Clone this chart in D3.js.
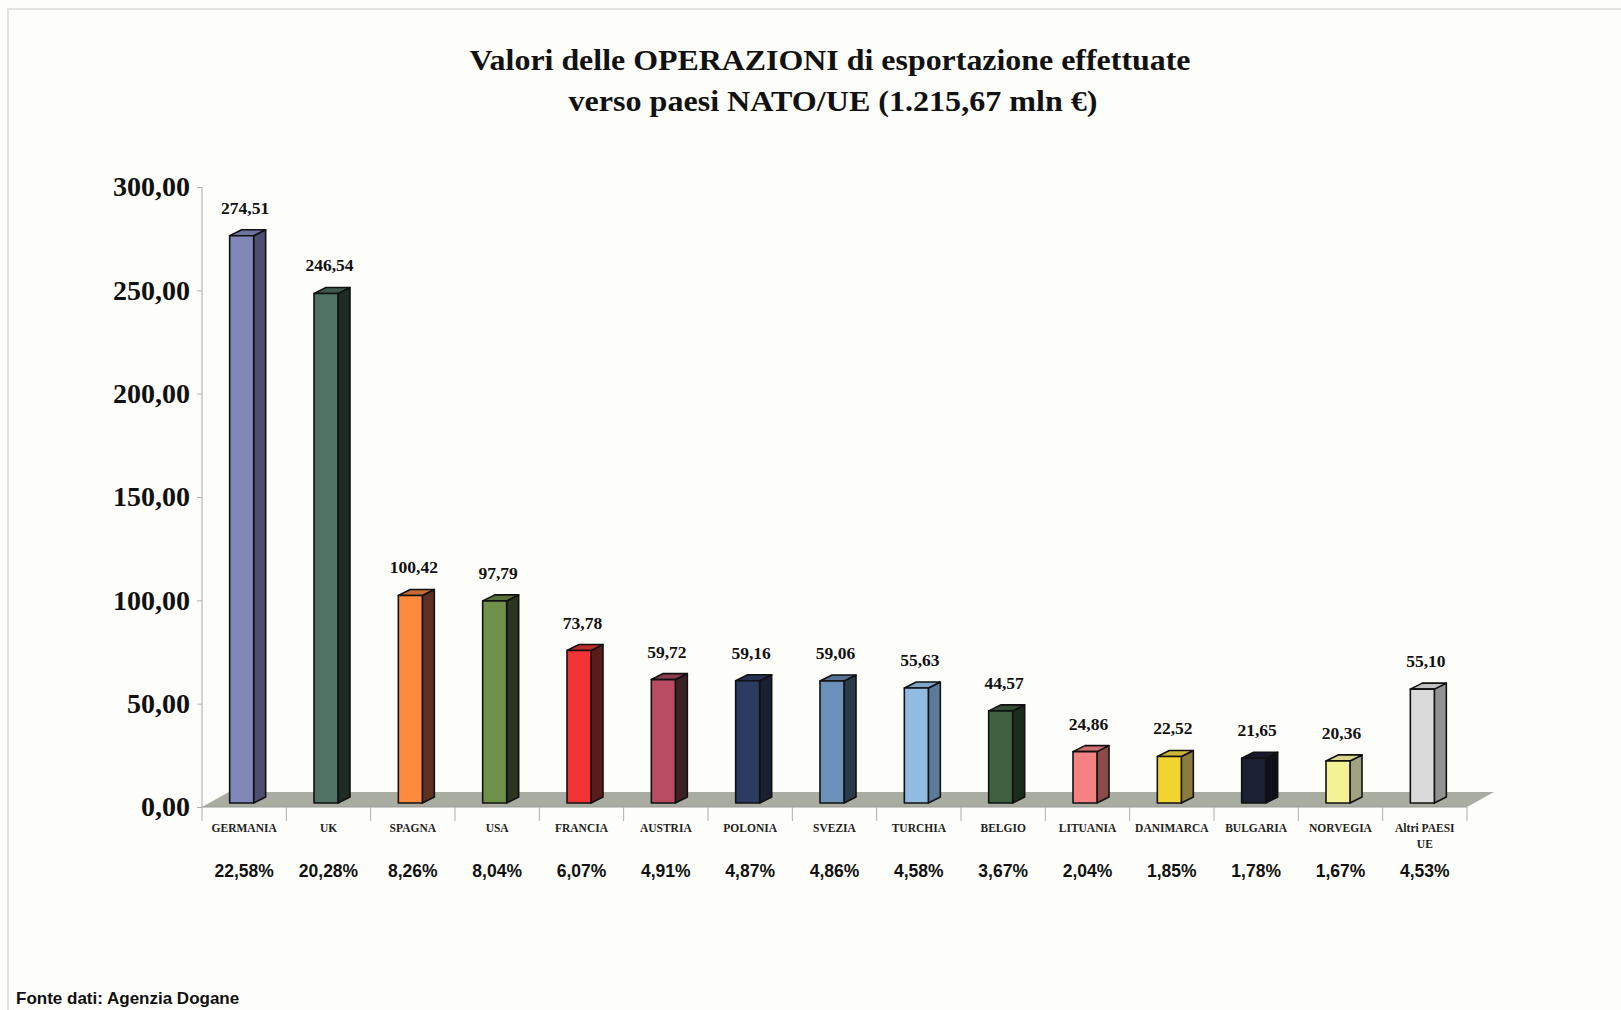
<!DOCTYPE html>
<html>
<head>
<meta charset="utf-8">
<script src="https://cdn.jsdelivr.net/npm/d3@7"></script>
<style>
    html, body { margin: 0; padding: 0; background: #fdfdf9; }
    svg { display: block; }
</style>
</head>
<body>
<svg id="chart" width="1621" height="1010"></svg>
<script>
// Dati
const countries = ["GERMANIA", "UK", "SPAGNA", "USA", "FRANCIA", "AUSTRIA", "POLONIA", "SVEZIA",
    "TURCHIA", "BELGIO", "LITUANIA", "DANIMARCA", "BULGARIA", "NORVEGIA", "Altri PAESI\nUE"];
const values = [274.51, 246.54, 100.42, 97.79, 73.78, 59.72, 59.16, 59.06, 55.63, 44.57, 24.86, 22.52, 21.65, 20.36, 55.10];
const shares = ["22,58%", "20,28%", "8,26%", "8,04%", "6,07%", "4,91%", "4,87%", "4,86%", "4,58%", "3,67%",
    "2,04%", "1,85%", "1,78%", "1,67%", "4,53%"];
const yTicks = [0, 50, 100, 150, 200, 250, 300];
const frontColors = ["#7f87b9", "#4f7262", "#ff8a3c", "#6f9049", "#f23434", "#b94b62", "#2b3b62", "#6b90b9",
    "#92bbe2", "#3f6142", "#f48282", "#f2d431", "#1c2033", "#f3f396", "#dadada"];
const sideColors = ["#4b4f72", "#1f2b25", "#5b3222", "#2b3522", "#5c1b1b", "#3b2126", "#1a2031", "#2b3b4c",
    "#5b7b99", "#1d2b1d", "#8c4b4b", "#8b7b41", "#0e1019", "#a2a282", "#929292"];

const fmt = v => v.toFixed(2).replace(".", ",");

const svg = d3.select("#chart");

// cornice leggera
svg.append("path")
    .attr("d", "M8,1010 V9 H1621")
    .attr("fill", "none")
    .attr("stroke", "#e3e3de")
    .attr("stroke-width", 2);

const x = d3.scaleBand().domain(d3.range(countries.length)).range([202, 1467]).padding(0);
const y = d3.scaleLinear().domain([0, 300]).range([807, 187]);

const floorDepth = { dx: 27, dy: -15 };
const plane = { dx: 0, dy: -4 };      // piano frontale delle barre
const barDepth = { dx: 12, dy: -6 };
const barW = 24;

// pavimento
const fx0 = x.range()[0], fx1 = x.range()[1], fy = y(0);
svg.append("path")
    .attr("d", `M${fx0},${fy} L${fx1},${fy} L${fx1 + floorDepth.dx},${fy + floorDepth.dy} L${fx0 + floorDepth.dx},${fy + floorDepth.dy} Z`)
    .attr("fill", "#a9aca1");

// asse Y
svg.append("line")
    .attr("x1", fx0).attr("x2", fx0)
    .attr("y1", y(300)).attr("y2", y(0))
    .attr("stroke", "#b5b5b0").attr("stroke-width", 1.2);

const yAxis = svg.append("g").attr("transform", `translate(${fx0},0)`)
    .call(d3.axisLeft(y).tickValues(yTicks).tickSize(5).tickPadding(7).tickFormat(fmt));
yAxis.select(".domain").remove();
yAxis.selectAll(".tick line").attr("stroke", "#b5b5b0");
yAxis.selectAll("text")
    .attr("fill", "#111")
    .style("font-family", "'Liberation Serif', 'Times New Roman', serif")
    .style("font-weight", "bold")
    .style("font-size", "28px");

// asse X (tacche tra le categorie)
svg.append("line")
    .attr("x1", fx0).attr("x2", fx1).attr("y1", fy).attr("y2", fy)
    .attr("stroke", "#9a9c95").attr("stroke-width", 1);
svg.append("g").selectAll("line")
    .data(d3.range(countries.length + 1))
    .join("line")
    .attr("x1", i => fx0 + i * x.bandwidth())
    .attr("x2", i => fx0 + i * x.bandwidth())
    .attr("y1", fy).attr("y2", fy + 14)
    .attr("stroke", "#b0b0aa").attr("stroke-width", 1);

// barre 3D
const bars = svg.append("g");
values.forEach((v, i) => {
    const cx = x(i) + x.bandwidth() / 2;
    const x0 = cx - 14.5 + plane.dx;
    const x1 = x0 + barW;
    const yb = y(0) + plane.dy;
    const yt = y(v) + plane.dy;
    const front = frontColors[i], side = sideColors[i];
    const top = d3.interpolateRgb(front, side)(0.35);
    const g = bars.append("g")
        .attr("stroke", "#111").attr("stroke-width", 1.6).attr("stroke-linejoin", "round");
    g.append("path")
        .attr("d", `M${x1},${yb} L${x1 + barDepth.dx},${yb + barDepth.dy} L${x1 + barDepth.dx},${yt + barDepth.dy} L${x1},${yt} Z`)
        .attr("fill", side);
    g.append("path")
        .attr("d", `M${x0},${yt} L${x0 + barDepth.dx},${yt + barDepth.dy} L${x1 + barDepth.dx},${yt + barDepth.dy} L${x1},${yt} Z`)
        .attr("fill", top);
    g.append("rect")
        .attr("x", x0).attr("y", yt).attr("width", barW).attr("height", yb - yt)
        .attr("fill", front);

    svg.append("text")
        .attr("x", cx + 1)
        .attr("y", yt - 22)
        .attr("text-anchor", "middle")
        .style("font-family", "'Liberation Serif', 'Times New Roman', serif")
        .style("font-weight", "bold")
        .style("font-size", "17.5px")
        .attr("fill", "#111")
        .text(fmt(v));
});

// etichette categorie
const catLabels = svg.append("g")
    .style("font-family", "'Liberation Serif', 'Times New Roman', serif")
    .style("font-weight", "bold")
    .style("font-size", "11.5px")
    .attr("fill", "#222")
    .attr("text-anchor", "middle");
countries.forEach((c, i) => {
    const t = catLabels.append("text").attr("x", x(i) + x.bandwidth() / 2).attr("y", 832);
    c.split("\n").forEach((line, k) => {
        t.append("tspan").attr("x", x(i) + x.bandwidth() / 2).attr("dy", k === 0 ? 0 : 16).text(line);
    });
});

// percentuali
svg.append("g").selectAll("text")
    .data(shares)
    .join("text")
    .attr("x", (d, i) => x(i) + x.bandwidth() / 2)
    .attr("y", 877)
    .attr("text-anchor", "middle")
    .style("font-family", "'Liberation Sans', Arial, sans-serif")
    .style("font-weight", "bold")
    .style("font-size", "17.5px")
    .attr("fill", "#111")
    .text(d => d);

// titolo
const title = svg.append("text")
    .attr("text-anchor", "middle")
    .style("font-family", "'Liberation Serif', 'Times New Roman', serif")
    .style("font-weight", "bold")
    .style("font-size", "30px")
    .attr("fill", "#111");
title.append("tspan").attr("x", 830).attr("y", 70)
    .attr("textLength", 721).attr("lengthAdjust", "spacingAndGlyphs")
    .text("Valori delle OPERAZIONI di esportazione effettuate");
title.append("tspan").attr("x", 833).attr("y", 111)
    .attr("textLength", 529).attr("lengthAdjust", "spacingAndGlyphs")
    .text("verso paesi NATO/UE (1.215,67 mln €)");

// fonte
svg.append("text")
    .attr("x", 16).attr("y", 1004)
    .style("font-family", "'Liberation Sans', Arial, sans-serif")
    .style("font-weight", "bold")
    .style("font-size", "17px")
    .attr("fill", "#111")
    .text("Fonte dati: Agenzia Dogane");
</script>
</body>
</html>
